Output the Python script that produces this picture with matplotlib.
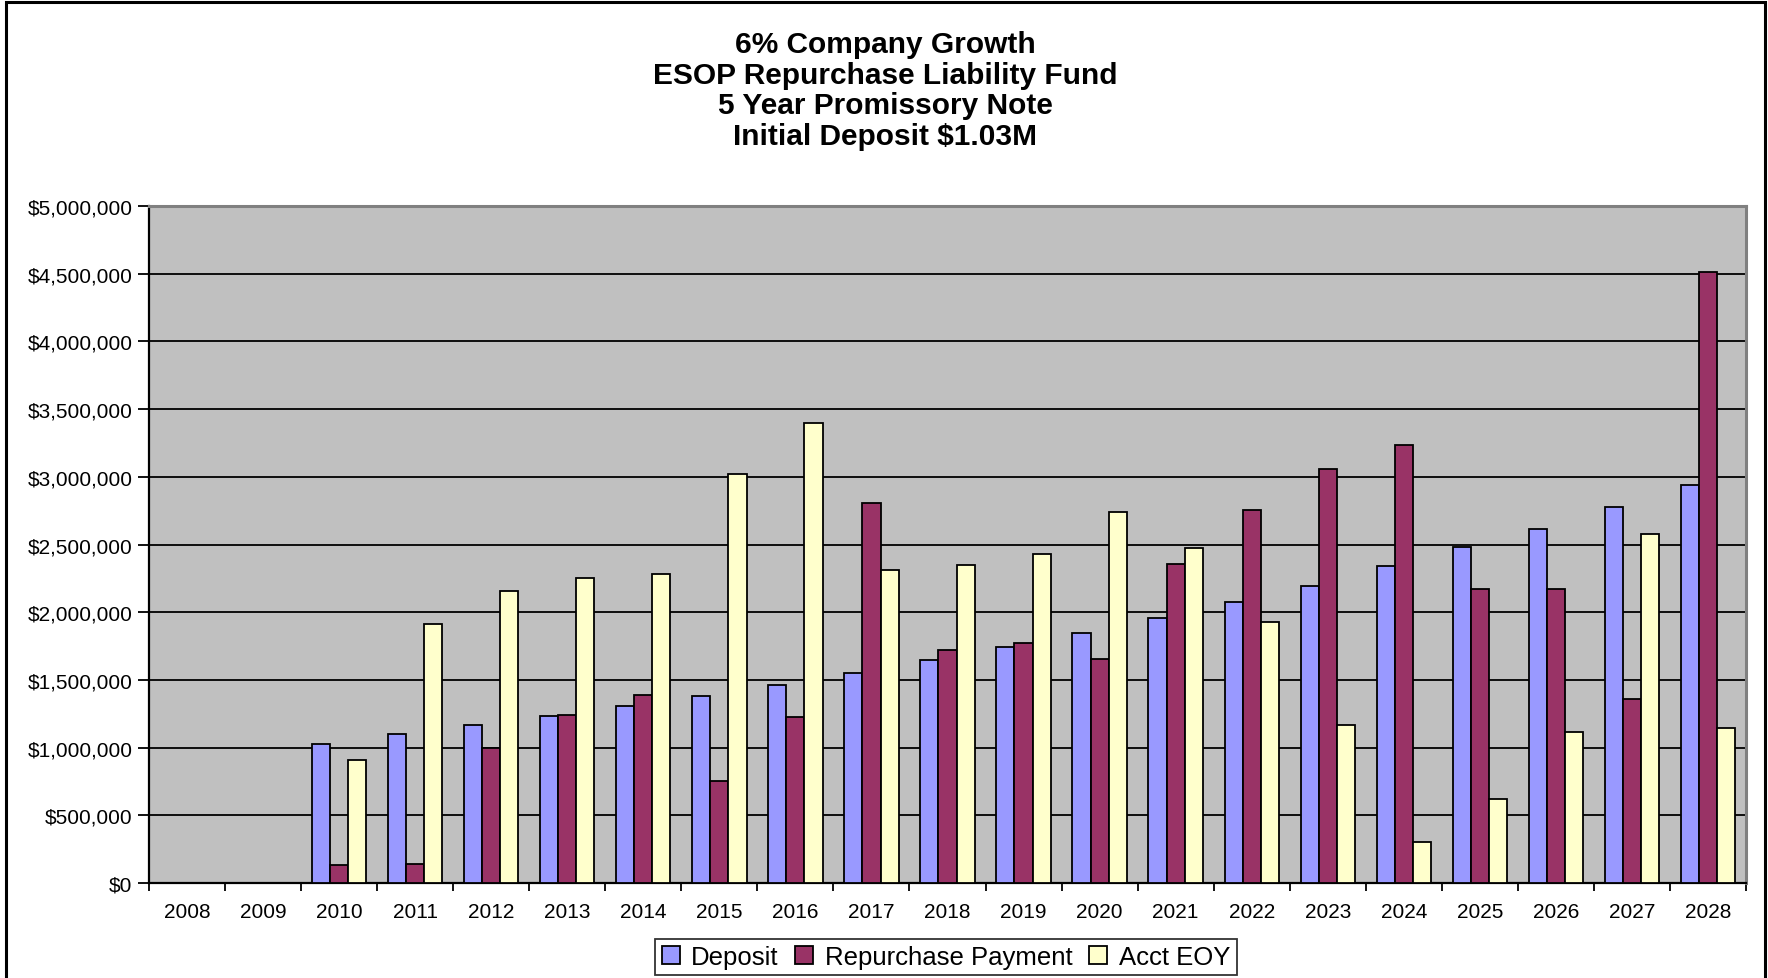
import matplotlib
matplotlib.use("Agg")
import matplotlib.pyplot as plt
import numpy as np
from matplotlib.patches import Rectangle
from matplotlib.ticker import FuncFormatter, FixedLocator

plt.rcParams['font.family'] = ['Liberation Sans', 'DejaVu Sans']

years = [str(y) for y in range(2008, 2029)]
deposit = [0, 0, 1.03, 1.098, 1.165, 1.23, 1.306, 1.378, 1.461, 1.548, 1.646,
           1.741, 1.848, 1.956, 2.075, 2.196, 2.338, 2.479, 2.612, 2.779, 2.937]
repurchase = [0, 0, 0.133, 0.14, 1.0, 1.24, 1.39, 0.753, 1.223, 2.806, 1.72,
              1.772, 1.656, 2.354, 2.752, 3.06, 3.236, 2.171, 2.171, 1.356, 4.509]
acct_eoy = [0, 0, 0.907, 1.91, 2.155, 2.25, 2.28, 3.02, 3.395, 2.312, 2.345,
            2.432, 2.743, 2.471, 1.93, 1.165, 0.3, 0.624, 1.115, 2.579, 1.148]
series_names = ["Deposit", "Repurchase Payment", "Acct EOY"]
title_lines = ["6% Company Growth", "ESOP Repurchase Liability Fund",
               "5 Year Promissory Note", "Initial Deposit $1.03M"]

W, H = 1768, 979
fig = plt.figure(figsize=(W / 100, H / 100), dpi=100)
fig.patch.set_facecolor('white')

# outer border (left, top, right)
fig.add_artist(Rectangle((6 / W, -0.05), (1765 - 6) / W, 1.05 - 3 / H,
                         transform=fig.transFigure, fill=False,
                         edgecolor='black', linewidth=2.2))

ax_l, ax_r, ax_t, ax_b = 149, 1746, 207, 884
ax = fig.add_axes([ax_l / W, 1 - ax_b / H, (ax_r - ax_l) / W, (ax_b - ax_t) / H])
ax.set_facecolor('#C0C0C0')

x = np.arange(len(years))
bw = 1 / (3 * 1.4)
colors = ['#9999FF', '#993366', '#FFFFCC']
data = [np.array(deposit) * 1e6, np.array(repurchase) * 1e6, np.array(acct_eoy) * 1e6]
handles = []
for i, (vals, c, name) in enumerate(zip(data, colors, series_names)):
    b = ax.bar(x + (i - 1) * bw, vals, width=bw, color=c, edgecolor='black',
               linewidth=1.3, label=name, zorder=3)
    handles.append(b)

ax.set_xlim(-0.5, len(years) - 0.5)
ax.set_ylim(0, 5e6)
ax.set_yticks(np.arange(0, 5e6 + 1, 5e5))
ax.yaxis.set_major_formatter(FuncFormatter(lambda v, p: "${:,.0f}".format(v)))
ax.grid(axis='y', color='black', linewidth=1.3, zorder=1)
ax.set_axisbelow(True)

ax.set_xticks(x)
ax.set_xticklabels(years)
ax.xaxis.set_minor_locator(FixedLocator(np.arange(-0.5, len(years), 1.0)))
ax.tick_params(axis='x', which='major', length=0, pad=14, labelsize=15)
ax.tick_params(axis='x', which='minor', length=6, width=1.3, direction='out')
ax.tick_params(axis='y', which='major', length=8, width=1.3, direction='out',
               pad=4, labelsize=15)

for s in ['left', 'bottom']:
    ax.spines[s].set_color('black')
    ax.spines[s].set_linewidth(1.6)
for s in ['top', 'right']:
    ax.spines[s].set_color('#808080')
    ax.spines[s].set_linewidth(2.2)

title_y = [45, 76, 106, 137]
for line, yy in zip(title_lines, title_y):
    fig.text(885 / W, 1 - yy / H, line, ha='center', va='center',
             fontsize=21.5, fontweight='bold')

leg = fig.legend(handles=handles, labels=series_names, loc='center',
                 bbox_to_anchor=(946 / W, 1 - 958 / H), ncol=3, frameon=True,
                 fontsize=18.5, handlelength=0.7, handleheight=0.7,
                 handletextpad=0.45, columnspacing=0.65, borderpad=0.25,
                 fancybox=False, edgecolor='black')
leg.get_frame().set_linewidth(1.3)

fig.savefig("out.png", dpi=100)
